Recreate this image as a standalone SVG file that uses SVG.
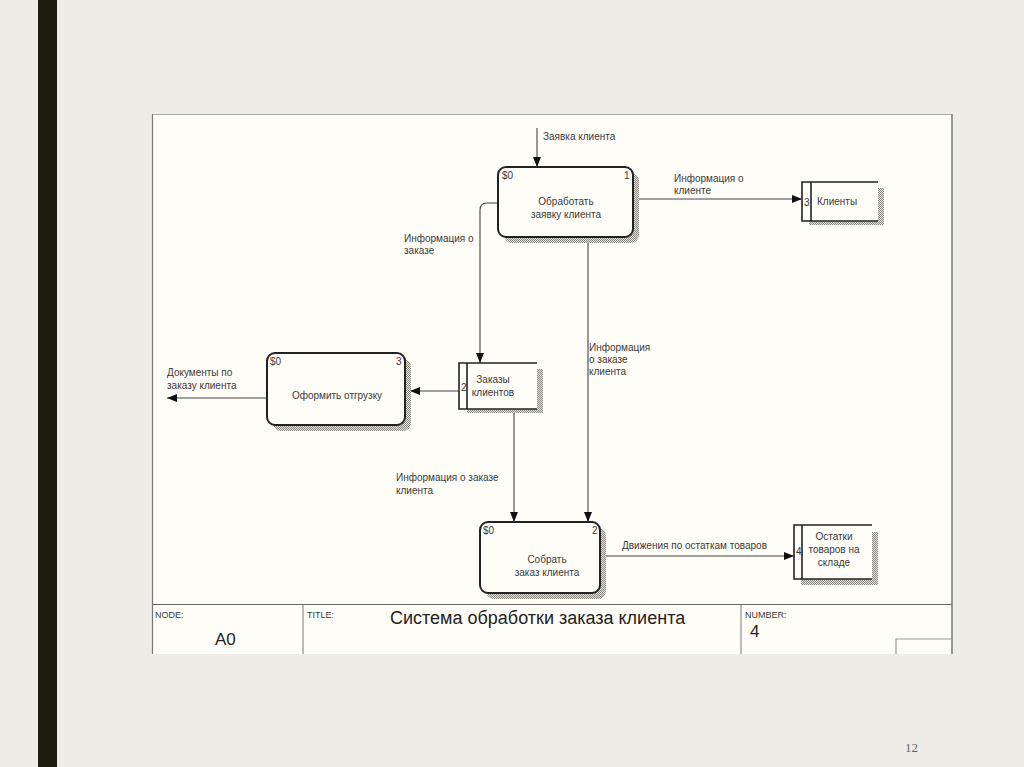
<svg xmlns="http://www.w3.org/2000/svg" width="1024" height="767" viewBox="0 0 1024 767">
<defs>
<style>
text{font-family:"Liberation Sans",Arial,sans-serif;fill:#3a3a3a;}
.t{font-size:10px;}
.c{text-anchor:middle;}
.box{fill:#fffdf8;stroke:#222;stroke-width:2;}
.sh{fill:url(#hatch);}
.st{fill:none;stroke:#222;stroke-width:1.6;}
.cn{fill:none;stroke:#444;stroke-width:1.1;}
.small{font-size:9px;}
</style>
<pattern id="hatch" width="2" height="2" patternUnits="userSpaceOnUse">
<rect width="2" height="2" fill="#e6e3dc"/>
<rect width="1" height="1" fill="#8a8780"/>
<rect x="1" y="1" width="1" height="1" fill="#8a8780"/>
</pattern>
<marker id="ah" markerWidth="10" markerHeight="8" refX="10" refY="4" orient="auto" markerUnits="userSpaceOnUse">
<path d="M0,0 L10,4 L0,8 Z" fill="#111"/>
</marker>
</defs>
<rect width="1024" height="767" fill="#eeece6"/>
<rect x="38" y="0" width="19" height="767" fill="#1c1c10"/>
<rect x="152" y="114" width="800" height="540" fill="#fffdf8"/>
<line x1="152" y1="114.5" x2="952" y2="114.5" stroke="#b0aea8" stroke-width="1"/>
<line x1="152.5" y1="114" x2="152.5" y2="654" stroke="#777" stroke-width="1.2"/>
<line x1="952" y1="114" x2="952" y2="654" stroke="#777" stroke-width="1.5"/>

<g id="connectors">
<line class="cn" x1="537" y1="128" x2="537" y2="167" marker-end="url(#ah)"/>
<line class="cn" x1="633" y1="199" x2="802" y2="199" marker-end="url(#ah)"/>
<path class="cn" d="M498,203 L487,203 Q480,203 480,210 L480,363" marker-end="url(#ah)"/>
<line class="cn" x1="588" y1="237" x2="588" y2="522" marker-end="url(#ah)"/>
<line class="cn" x1="459" y1="391" x2="410" y2="391" marker-end="url(#ah)"/>
<line class="cn" x1="267" y1="398" x2="167" y2="398" marker-end="url(#ah)"/>
<line class="cn" x1="514" y1="409" x2="514" y2="522" marker-end="url(#ah)"/>
<line class="cn" x1="600" y1="556" x2="794" y2="556" marker-end="url(#ah)"/>
<text class="t" x="543" y="140">Заявка клиента</text>
<text class="t" x="674" y="182">Информация о</text>
<text class="t" x="674" y="194">клиенте</text>
<text class="t" x="404" y="242">Информация о</text>
<text class="t" x="404" y="254">заказе</text>
<text class="t" x="589" y="351">Информация</text>
<text class="t" x="589" y="363">о заказе</text>
<text class="t" x="589" y="375">клиента</text>
<text class="t" x="167" y="376">Документы по</text>
<text class="t" x="167" y="389">заказу клиента</text>
<text class="t" x="396" y="481">Информация о заказе</text>
<text class="t" x="396" y="494">клиента</text>
<text class="t" x="622" y="549">Движения по остаткам товаров</text>
</g>

<g id="box1">
<rect class="sh" x="504" y="173" width="135" height="70" rx="8"/>
<rect class="box" x="498" y="167" width="135" height="70" rx="8"/>
<text class="t" x="502" y="179">$0</text>
<text class="t" x="624" y="179">1</text>
<text class="t c" x="566" y="205">Обработать</text>
<text class="t c" x="566" y="218">заявку клиента</text>
</g>

<g id="box3">
<rect class="sh" x="273" y="359" width="138" height="72" rx="8"/>
<rect class="box" x="267" y="353" width="138" height="72" rx="8"/>
<text class="t" x="270" y="365">$0</text>
<text class="t" x="396" y="365">3</text>
<text class="t c" x="337" y="399">Оформить отгрузку</text>
</g>

<g id="box2">
<rect class="sh" x="486" y="528" width="120" height="71" rx="8"/>
<rect class="box" x="480" y="522" width="120" height="71" rx="8"/>
<text class="t" x="483" y="534">$0</text>
<text class="t" x="592" y="534">2</text>
<text class="t c" x="547" y="563">Собрать</text>
<text class="t c" x="547" y="576">заказ клиента</text>
</g>

<g id="store-clients">
<rect class="sh" x="878" y="188" width="6" height="37"/>
<rect class="sh" x="809" y="221" width="75" height="4"/>
<rect x="802" y="182" width="76" height="39" fill="#fffdf8"/>
<path class="st" d="M878,182 L802,182 L802,221 L878,221 M811,182 L811,221"/>
<text class="t" x="804" y="206">3</text>
<text class="t" x="817" y="205">Клиенты</text>
</g>

<g id="store-orders">
<rect class="sh" x="537" y="369" width="6" height="44"/>
<rect class="sh" x="467" y="409" width="76" height="4"/>
<rect x="459" y="363" width="78" height="46" fill="#fffdf8"/>
<path class="st" d="M537,363 L459,363 L459,409 L537,409 M467,363 L467,409"/>
<text class="t" x="461" y="391">2</text>
<text class="t c" x="493" y="383">Заказы</text>
<text class="t c" x="493" y="396">клиентов</text>
</g>

<g id="store-stock">
<rect class="sh" x="872" y="532" width="6" height="53"/>
<rect class="sh" x="801" y="579" width="77" height="6"/>
<rect x="794" y="525" width="78" height="54" fill="#fffdf8"/>
<path class="st" d="M872,525 L794,525 L794,579 L872,579 M802,525 L802,579"/>
<text class="t" x="796" y="555">4</text>
<text class="t c" x="834" y="540">Остатки</text>
<text class="t c" x="834" y="553">товаров на</text>
<text class="t c" x="834" y="566">складе</text>
</g>

<g id="titlebar">
<line x1="152" y1="604.5" x2="952" y2="604.5" stroke="#666" stroke-width="1.2"/>
<line x1="303" y1="604" x2="303" y2="654" stroke="#777" stroke-width="1"/>
<line x1="741" y1="604" x2="741" y2="654" stroke="#777" stroke-width="1"/>
<path d="M896,654 L896,639 L952,639" fill="none" stroke="#999" stroke-width="1.2"/>
<text class="small" x="155" y="618">NODE:</text>
<text class="small" x="307" y="618">TITLE:</text>
<text class="small" x="745" y="618">NUMBER:</text>
<text x="215" y="645" style="font-size:17px;fill:#222">A0</text>
<text x="390" y="624" style="font-size:18px;fill:#222">Система обработки заказа клиента</text>
<text x="750" y="637" style="font-size:17px;fill:#222">4</text>
</g>

<text x="905" y="752" style="font-family:'Liberation Serif',serif;font-size:13px;fill:#666">12</text>
</svg>
